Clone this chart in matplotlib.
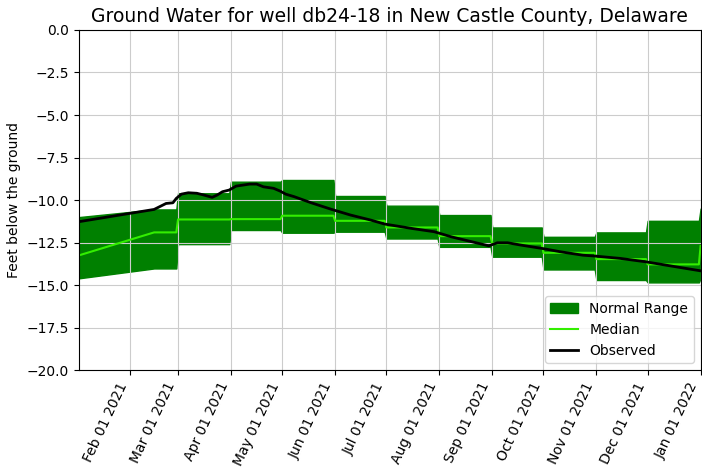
import numpy as np
import matplotlib
matplotlib.use("Agg")
from matplotlib import pyplot as plt
import matplotlib.dates as mdates

# normal range and median, daily series (steps at month starts)
band_dates = ["2021-01-02", "2021-02-15", "2021-02-28", "2021-03-01", "2021-03-31",
              "2021-04-01", "2021-04-30", "2021-05-01", "2021-05-31", "2021-06-01",
              "2021-06-30", "2021-07-01", "2021-07-31", "2021-08-01", "2021-08-31",
              "2021-09-01", "2021-09-30", "2021-10-01", "2021-10-31", "2021-11-01",
              "2021-11-30", "2021-12-01", "2021-12-31", "2022-01-01"]
upper = [-11.0, -10.55, -10.55, -9.6, -9.6, -8.92, -8.92, -8.82, -8.82, -9.76,
         -9.76, -10.33, -10.33, -10.88, -10.88, -11.61, -11.61, -12.16, -12.16, -11.9,
         -11.9, -11.22, -11.22, -10.5]
median = [-13.25, -11.9, -11.9, -11.14, -11.14, -11.12, -11.12, -10.92, -10.92, -11.22,
          -11.22, -11.61, -11.61, -12.12, -12.12, -12.55, -12.55, -13.1, -13.1, -13.47,
          -13.47, -13.78, -13.78, -12.7]
lower = [-14.6, -14.02, -14.02, -12.59, -12.59, -11.76, -11.76, -11.92, -11.92, -11.86,
         -11.86, -12.26, -12.26, -12.75, -12.75, -13.33, -13.33, -14.08, -14.08, -14.7,
         -14.7, -14.84, -14.84, -14.6]

obs_dates = ["2021-01-02", "2021-02-15", "2021-02-22", "2021-02-26", "2021-02-28",
             "2021-03-03", "2021-03-07", "2021-03-12", "2021-03-16", "2021-03-21",
             "2021-03-24", "2021-03-27", "2021-03-31", "2021-04-04", "2021-04-08",
             "2021-04-12", "2021-04-16", "2021-04-20", "2021-04-26", "2021-04-30",
             "2021-05-03", "2021-05-08", "2021-05-18", "2021-05-30", "2021-06-10",
             "2021-06-22", "2021-06-30", "2021-07-16", "2021-07-29", "2021-08-08",
             "2021-08-20", "2021-08-30", "2021-09-04", "2021-09-10", "2021-09-18",
             "2021-09-30", "2021-10-11", "2021-10-24", "2021-10-31", "2021-11-15",
             "2021-11-30", "2021-12-15", "2022-01-01"]
observed = [-11.27, -10.55, -10.2, -10.16, -9.9, -9.65, -9.57, -9.6, -9.7, -9.84,
            -9.7, -9.51, -9.41, -9.18, -9.12, -9.06, -9.06, -9.22, -9.31, -9.48,
            -9.65, -9.8, -10.16, -10.55, -10.88, -11.18, -11.41, -11.67, -11.86, -12.16,
            -12.45, -12.69, -12.51, -12.51, -12.65, -12.84, -13.04, -13.24, -13.29, -13.43,
            -13.63, -13.88, -14.16]

band_t = np.array(band_dates, dtype="datetime64[D]")
obs_t = np.array(obs_dates, dtype="datetime64[D]")

fig, ax = plt.subplots(figsize=(7.02, 4.68), dpi=100)
fig.subplots_adjust(left=0.1125, right=0.998, top=0.936, bottom=0.209)

ax.fill_between(band_t, lower, upper, color="green", label="Normal Range")
ax.plot(band_t, median, color="#33ee00", lw=1.5, label="Median")
ax.plot(obs_t, observed, color="black", lw=2, label="Observed")

ax.set_ylim(-20, 0)
ax.set_yticks(np.arange(-20, 0.1, 2.5))
ax.set_xlim(band_t[0], band_t[-1])
ax.xaxis.set_major_locator(mdates.MonthLocator())
ax.xaxis.set_major_formatter(mdates.DateFormatter("%b %d %Y"))
plt.setp(ax.get_xticklabels(), rotation=65, ha="right")

ax.grid(True, color="#cccccc")
ax.set_ylabel("Feet below the ground")
ax.set_title("Ground Water for well db24-18 in New Castle County, Delaware", fontsize=13.5)
ax.legend(loc="lower right")

fig.savefig("out.png")
